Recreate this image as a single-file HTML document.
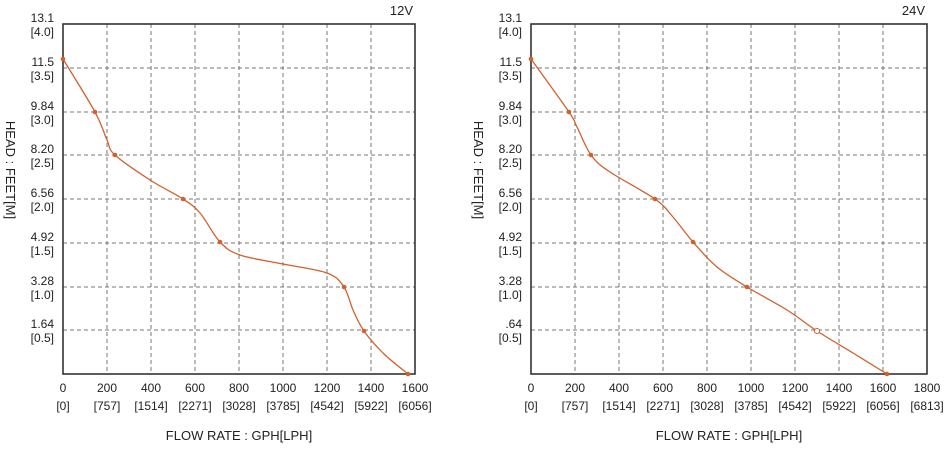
<!DOCTYPE html>
<html><head><meta charset="utf-8"><style>
body{margin:0;background:#fff;width:947px;height:445px;overflow:hidden}
svg text{font-family:"Liberation Sans",Arial,sans-serif;fill:#222}
</style></head><body>
<svg id="s" width="947" height="445" xmlns="http://www.w3.org/2000/svg"></svg>
<script>
const s=document.getElementById('s');let h='';
const ys=[24,68,112,155,199,243,287,330,374];
const yl=[['13.1','[4.0]'],['11.5','[3.5]'],['9.84','[3.0]'],['8.20','[2.5]'],['6.56','[2.0]'],['4.92','[1.5]'],['3.28','[1.0]'],['1.64','[0.5]']];
function cr(p){let d='M'+p[0][0]+','+p[0][1];for(let i=0;i<p.length-1;i++){const a=p[i-1]||p[i],b=p[i],c=p[i+1],e=p[i+2]||c;
d+=' C'+(b[0]+(c[0]-a[0])/6).toFixed(1)+','+(b[1]+(c[1]-a[1])/6).toFixed(1)+' '+(c[0]-(e[0]-b[0])/6).toFixed(1)+','+(c[1]-(e[1]-b[1])/6).toFixed(1)+' '+c[0]+','+c[1];}return d;}
function chart(x0,n,xl,title,pts,marks,open,lab){
 const x1=x0+44*n;
 for(let i=1;i<n;i++)h+=`<line x1="${x0+44*i}" y1="24" x2="${x0+44*i}" y2="374" stroke="#777" stroke-dasharray="4,3"/>`;
 for(let j=1;j<8;j++)h+=`<line x1="${x0}" y1="${ys[j]}" x2="${x1}" y2="${ys[j]}" stroke="#777" stroke-dasharray="4,3"/>`;
 h+=`<rect x="${x0}" y="24" width="${x1-x0}" height="350" fill="none" stroke="#333" stroke-width="1.6"/>`;
 yl.forEach((l,j)=>{let t=l[0];if(lab&&j==7)t='.64';h+=`<text x="${x0-9}" y="${ys[j]-2}" font-size="12" text-anchor="end">${t}</text><text x="${x0-9}" y="${ys[j]+12}" font-size="12" text-anchor="end">${l[1]}</text>`;});
 xl.forEach((l,i)=>{h+=`<text x="${x0+44*i}" y="392" font-size="12" text-anchor="middle">${l[0]}</text><text x="${x0+44*i}" y="410" font-size="12" text-anchor="middle">${l[1]}</text>`;});
 h+=`<text x="${(x0+x1)/2}" y="440" font-size="13" text-anchor="middle">FLOW RATE : GPH[LPH]</text>`;
 h+=`<text transform="translate(${x0-57},170) rotate(90)" font-size="13" text-anchor="middle">HEAD : FEET[M]</text>`;
 h+=`<text x="${x1-2}" y="15" font-size="13" text-anchor="end">${title}</text>`;
 h+=`<path d="${cr(pts)}" fill="none" stroke="#d2602c" stroke-width="1.3"/>`;
 marks.forEach((m,i)=>{h+= (open&&i==open)?`<circle cx="${m[0]}" cy="${m[1]}" r="2.5" fill="#fff" stroke="#d2602c"/>`:`<circle cx="${m[0]}" cy="${m[1]}" r="2.3" fill="#d2602c"/>`;});
}
const xlA=[['0','[0]'],['200','[757]'],['400','[1514]'],['600','[2271]'],['800','[3028]'],['1000','[3785]'],['1200','[4542]'],['1400','[5922]'],['1600','[6056]']];
chart(63,8,xlA,'12V',
[[63,59],[95,112],[107,140],[115,155],[150,180],[183,199],[200,213],[220,242],[240,255],[283,264],[327,273],[344,287],[353,310],[364,331],[383,353],[408,374]],
[[63,59],[95,112],[115,155],[183,199],[220,242],[344,287],[364,331],[408,374]],0,false);
chart(531,9,xlA.concat([['1800','[6813]']]),'24V',
[[531,59],[569,112],[577,127],[591,155],[610,172],[655,199],[673,217],[693,242],[717,267],[747,287],[787,310],[817,331],[853,353],[887,374]],
[[531,59],[569,112],[591,155],[655,199],[693,242],[747,287],[817,331],[887,374]],6,true);
s.innerHTML=h;
</script>
</body></html>
